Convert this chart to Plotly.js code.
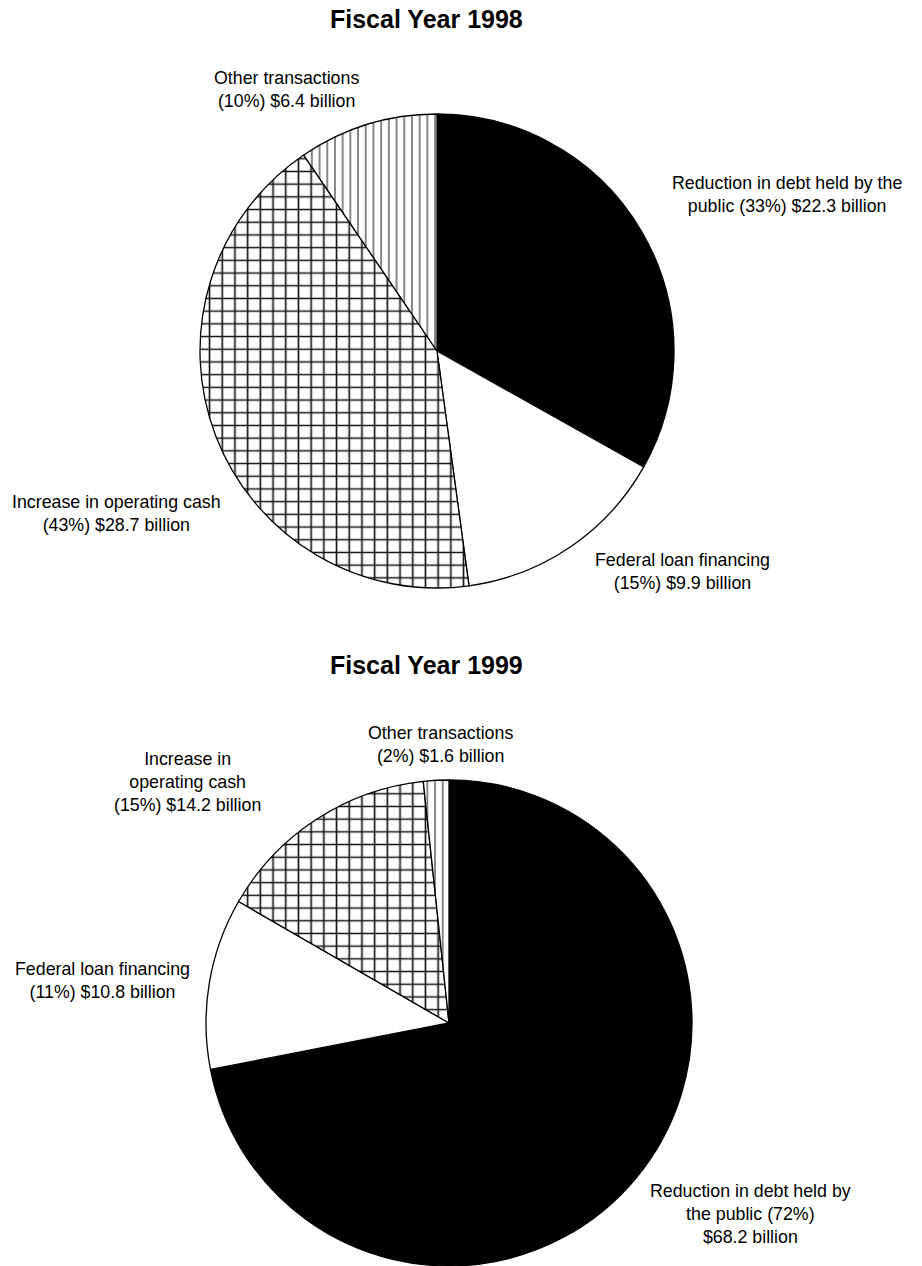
<!DOCTYPE html>
<html>
<head>
<meta charset="utf-8">
<script src="https://cdn.plot.ly/plotly-3.0.1.min.js"></script>
<style>html,body{margin:0;padding:0;background:#fff;}#chart{width:922px;height:1266px;}</style>
</head>
<body>
<div id="chart"></div>
<script>
// ---- data ----
const categories = ["Reduction in debt held by the public", "Federal loan financing", "Increase in operating cash", "Other transactions"];
const values1998 = [22.3, 9.9, 28.7, 6.4];
const values1999 = [68.2, 10.8, 14.2, 1.6];
const percent1998 = [33, 15, 43, 10];
const percent1999 = [72, 11, 15, 2];
const titles = ["Fiscal Year 1998", "Fiscal Year 1999"];
const labelLines1998 = [
  ["Reduction in debt held by the", "public (" + percent1998[0] + "%) $" + values1998[0] + " billion"],
  ["Federal loan financing", "(" + percent1998[1] + "%) $" + values1998[1] + " billion"],
  ["Increase in operating cash", "(" + percent1998[2] + "%) $" + values1998[2] + " billion"],
  ["Other transactions", "(" + percent1998[3] + "%) $" + values1998[3] + " billion"]
];
const labelLines1999 = [
  ["Reduction in debt held by", "the public (" + percent1999[0] + "%)", "$" + values1999[0] + " billion"],
  ["Federal loan financing", "(" + percent1999[1] + "%) $" + values1999[1] + " billion"],
  ["Increase in", "operating cash", "(" + percent1999[2] + "%) $" + values1999[2] + " billion"],
  ["Other transactions", "(" + percent1999[3] + "%) $" + values1999[3] + " billion"]
];

// ---- layout helpers ----
const W = 922, H = 1266;
const px = x => x / W;
const py = y => 1 - y / H;

const fills = ["#000000", "#ffffff", "#ffffff", "#ffffff"];
const pattern = {
  shape: ["", "", "+", "|"],
  fgcolor: ["#000000", "#000000", "#111111", "#666666"],
  bgcolor: ["#000000", "#ffffff", "#ffffff", "#ffffff"],
  size: [8, 8, 12.7, 7.7],
  solidity: [0.2, 0.2, 0.24, 0.2],
  fillmode: "replace"
};

function pieTrace(values, cx, cy, r) {
  return {
    type: "pie",
    labels: categories,
    values: values,
    sort: false,
    direction: "clockwise",
    rotation: 0,
    textinfo: "none",
    hoverinfo: "none",
    showlegend: false,
    marker: { colors: fills, line: { color: "#000", width: 1.3 }, pattern: pattern },
    domain: { x: [px(cx - r), px(cx + r)], y: [py(cy + r), py(cy - r)] }
  };
}

const traces = [
  pieTrace(values1998, 437, 351, 237),
  pieTrace(values1999, 449, 1023, 243)
];

const labelFont = { family: "Liberation Sans, Arial, sans-serif", size: 17.8, color: "#000" };
const annotations = [];
function addLabel(lines, cx, cy) {
  annotations.push({
    text: lines.join("<br>"), x: px(cx), y: py(cy), xref: "paper", yref: "paper",
    xanchor: "center", yanchor: "middle", showarrow: false, align: "center",
    font: labelFont
  });
}
// 1998 labels
addLabel(labelLines1998[0], 787, 195);
addLabel(labelLines1998[1], 682, 572);
addLabel(labelLines1998[2], 116, 513);
addLabel(labelLines1998[3], 286, 89);
// 1999 labels
addLabel(labelLines1999[0], 750, 1214);
addLabel(labelLines1999[1], 102, 980);
addLabel(labelLines1999[2], 187, 782);
addLabel(labelLines1999[3], 440, 744);
// titles
[[titles[0], 19], [titles[1], 665]].forEach(([t, y]) => {
  annotations.push({
    text: "<b>" + t + "</b>", x: px(426), y: py(y), xref: "paper", yref: "paper",
    xanchor: "center", yanchor: "middle", showarrow: false,
    font: { family: "Liberation Sans, Arial, sans-serif", size: 25, color: "#000" }
  });
});

const layout = {
  width: W, height: H,
  margin: { l: 0, r: 0, t: 0, b: 0 },
  paper_bgcolor: "#fff",
  annotations: annotations
};

Plotly.newPlot("chart", traces, layout, { displayModeBar: false, staticPlot: true });
</script>
</body>
</html>
